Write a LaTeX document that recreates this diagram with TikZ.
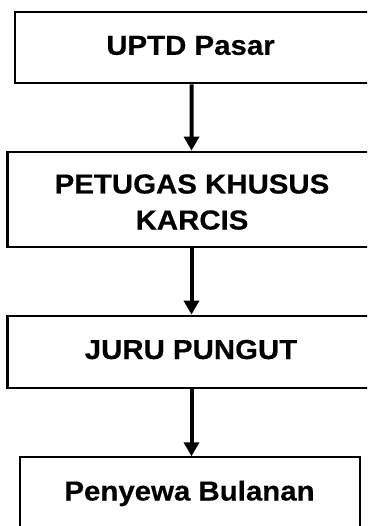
\documentclass[tikz,border=0pt]{standalone}
\usepackage{fontspec}
\setmainfont{Liberation Sans}
\newfontfamily\lblfont{Liberation Sans}[FakeStretch=1.07,FakeBold=0.4]
\usetikzlibrary{arrows.meta}
\begin{document}
\begin{tikzpicture}[x=1pt,y=-1pt,
  box/.style={draw=black,line width=2.2pt,inner sep=0pt,rectangle},
  lbl/.style={anchor=base,inner sep=0pt,font=\lblfont\fontsize{27.5pt}{33pt}\selectfont\bfseries},
  arr/.style={line width=4pt,-{Triangle[width=15pt,length=14pt]}}]
\useasboundingbox (0,0) rectangle (367,526);
\clip (0,0) rectangle (367,526);
\node[box,minimum width=354pt,minimum height=71.6pt] (b1) at (191.7,47.5) {};
\node[box,minimum width=368pt,minimum height=95.6pt] (b2) at (191.5,199.5) {};
\node[box,minimum width=368pt,minimum height=72pt] (b3) at (191.5,351.7) {};
\node[box,minimum width=340pt,minimum height=82.7pt] (b4) at (190,498.7) {};
\node[lbl] (t1) at (190.5,54.8) {UPTD Pasar};
\node[lbl] (t2a) at (192,193.5) {PETUGAS KHUSUS};
\node[lbl] (t2b) at (192,229.5) {KARCIS};
\node[lbl] (t3) at (191,359) {JURU PUNGUT};
\node[lbl] (t4) at (189.5,500.5) {Penyewa Bulanan};
\draw[arr] (b1.south) -- (b2.north);
\draw[arr] (b2.south) -- (b3.north);
\draw[arr] (b3.south) -- (b3.south |- b4.north);
\end{tikzpicture}
\end{document}
